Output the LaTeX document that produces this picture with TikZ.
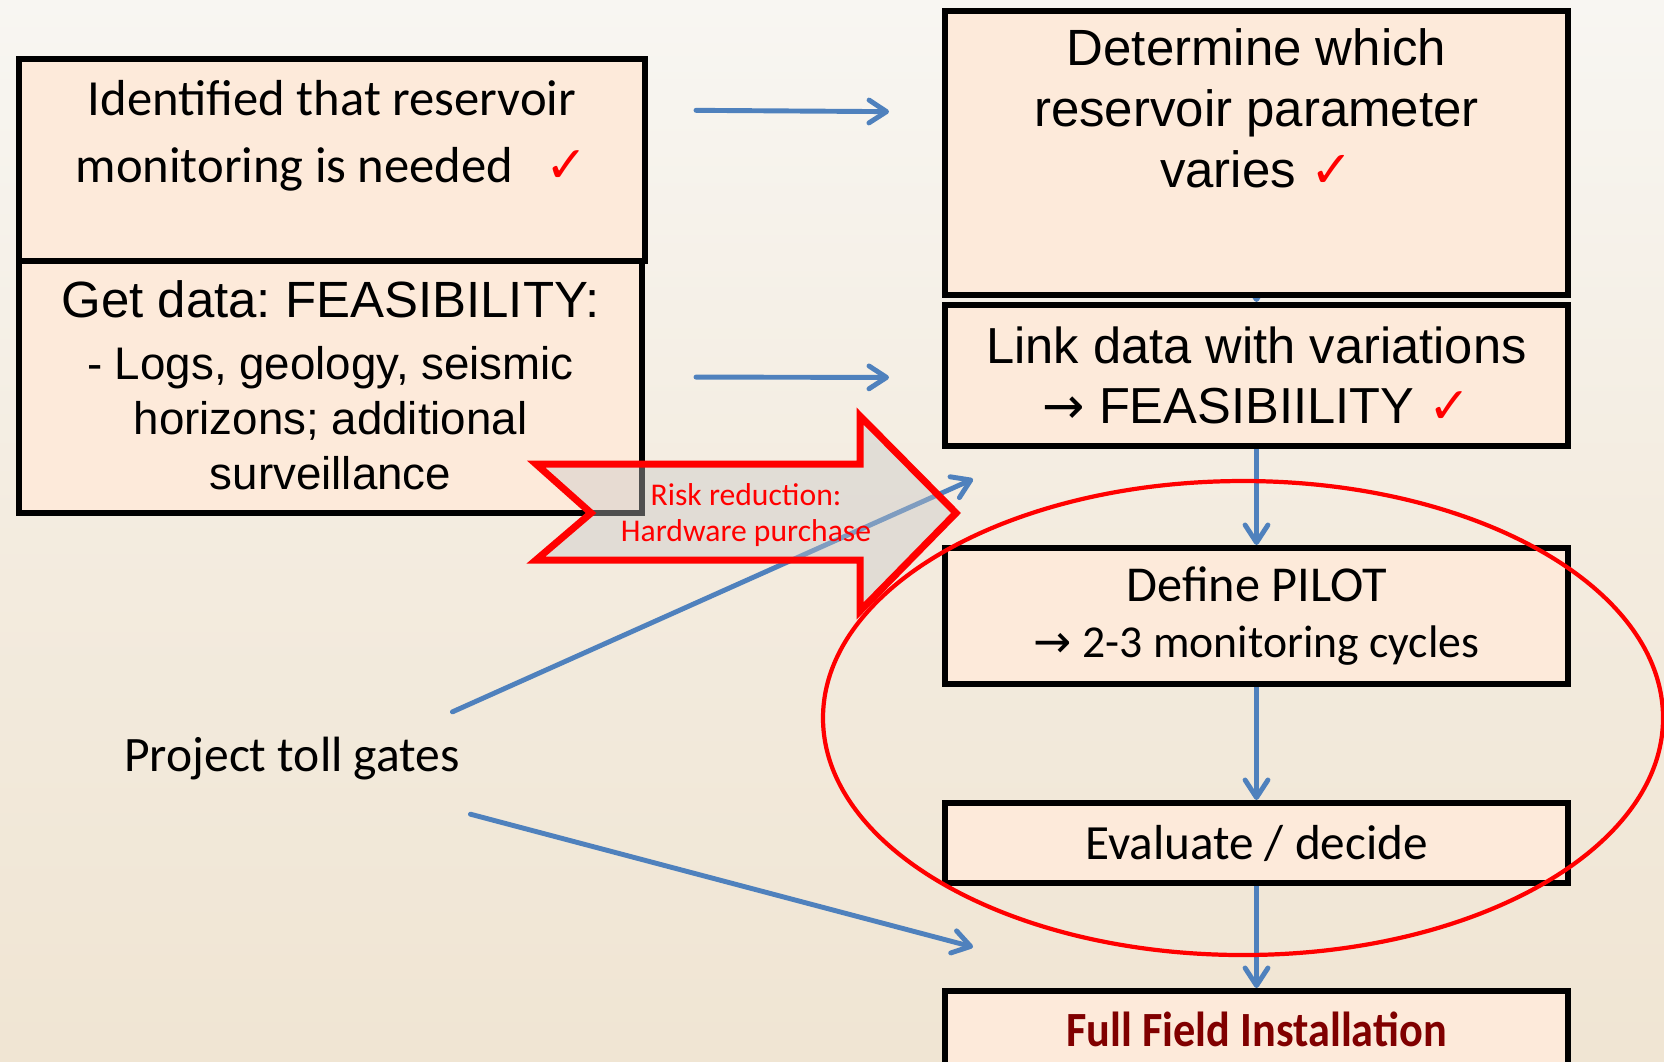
\documentclass[tikz,border=0pt]{standalone}
\usepackage{fontspec}
\usepackage{graphicx}
\setmainfont{Liberation Sans}
\newfontfamily\calibri{Carlito}
\newfontfamily\symbols{DejaVu Sans}
\usetikzlibrary{
  arrows.meta,
  positioning,
  calc,
  backgrounds
}
\definecolor{boxfill}{HTML}{FDEADA}
\definecolor{flowblue}{HTML}{4F81BD}
\definecolor{alertred}{HTML}{FF0000}
\definecolor{darkred}{HTML}{800000}
\definecolor{paperlight}{HTML}{F8F6F2}
\definecolor{paperdark}{HTML}{F0E5D3}
\newcommand{\tick}{{\symbols\color{alertred}✓}}
\newcommand{\rarr}{{\symbols →}}
\frenchspacing

\begin{document}
\begin{tikzpicture}[
  box/.style={draw, line width=1.7pt, fill=boxfill, anchor=north west, inner sep=0pt,
    minimum width=6.23cm, align=center},
  txt/.style={align=center, inner sep=0pt},
  arialbig/.style={font=\fontsize{14.5}{17.4}\selectfont},
  calbig/.style={font=\calibri\fontsize{14.3}{15.7}\selectfont},
  flow/.style={draw=flowblue, line width=1.4pt, line cap=round,
    -{Straight Barb[length=5pt,width=6.5pt,round]}},
]
  \useasboundingbox (0,0) rectangle (16.64,-10.61);
  \clip (0,0) rectangle (16.64,-10.61);
  \begin{scope}[on background layer]
    \shade[top color=paperlight, bottom color=paperdark, middle color=paperdark!60!paperlight]
      (0,0) rectangle (16.64,-10.61);
  \end{scope}

  % Left column
  \node[box, minimum width=6.26cm, minimum height=2.02cm] (ident) at (0.16,-0.56) {};
  \node[txt, font=\calibri\fontsize{14.4}{19}\selectfont, below=0.24cm of ident.north] (identtxt)
    {Identified that reservoir\\monitoring is needed\hspace{6pt} \tick};
  \node[box, minimum height=2.52cm] (getdata) at (0.16,-2.58) {};
  \node[txt, font=\fontsize{13}{15.6}\selectfont, below=0.22cm of getdata.north] (getdatatxt)
    {{\fontsize{14.5}{17}\selectfont Get data: FEASIBILITY:}\\[2pt]
     - Logs, geology, seismic\\horizons; additional\\surveillance};

  % Right column
  \node[box, minimum height=2.84cm] (determ) at (9.42,-0.08) {};
  \node[txt, arialbig, below=0.2cm of determ.north] (determtxt)
    {Determine which\\reservoir parameter\\varies \tick};
  \node[box, minimum height=1.41cm, font=\fontsize{14.4}{17.2}\selectfont] (link) at (9.42,-3.02)
    {Link data with variations\\\rarr\ FEASIBIILITY \tick};
  \node[box, minimum height=1.36cm, calbig] (pilot) at (9.42,-5.45)
    {Define PILOT\\{\fontsize{13}{15.7}\selectfont\rarr\ 2-3 monitoring cycles}};
  \node[box, minimum height=0.80cm, font=\calibri\fontsize{14}{16}\selectfont] (evald) at (9.42,-8.00)
    {Evaluate / decide};
  \node[box, minimum height=0.76cm, font=\calibri\bfseries\fontsize{14}{16}\selectfont,
    text=darkred] (field) at (9.42,-9.88) {\scalebox{0.9}[1]{Full Field Installation}};

  % Flow down the right column
  \begin{scope}[on background layer]
    \draw[flow] (determ) -- (link);
    \draw[flow] (link) -- (pilot);
    \draw[flow] (pilot) -- (evald);
    \draw[flow] (evald) -- (field);
  \end{scope}

  % Left to right
  \draw[flow, shorten <=0.48cm, shorten >=0.53cm] ([yshift=5mm]ident.east) -- ([yshift=4.1mm]determ.west);
  \draw[flow, shorten <=0.51cm, shorten >=0.53cm] ([yshift=1mm]getdata.east) -- ([yshift=-0.2mm]link.west);

  % Toll gates
  \node[txt, font=\calibri\fontsize{14.1}{16}\selectfont] (gates) at (2.92,-7.59) {Project toll gates};
  \coordinate (gateA) at (9.73,-4.79);
  \coordinate (gateB) at (9.73,-9.47);
  \draw[flow] ([shift={(-0.08,0.25)}]gates.north east) -- (gateA);
  \draw[flow] ([shift={(0.1,-0.33)}]gates.south east) -- (gateB);

  % Risk reduction block arrow
  \filldraw[draw=alertred, line width=2pt, fill=gray!45, fill opacity=0.4, line join=miter]
    (5.36,-4.64) -- (8.60,-4.64) -- (8.60,-4.16) -- (9.56,-5.13) -- (8.60,-6.11)
    -- (8.60,-5.60) -- (5.36,-5.60) -- (5.91,-5.13) -- cycle;
  \node[txt, font=\calibri\fontsize{9}{10.5}\selectfont, text=alertred] (risk) at (7.46,-5.15)
    {Risk reduction:\\Hardware purchase};

  % Pilot phase
  \draw[alertred, line width=1.2pt] (12.43,-7.18) ellipse [x radius=4.20, y radius=2.37];
\end{tikzpicture}
\end{document}
